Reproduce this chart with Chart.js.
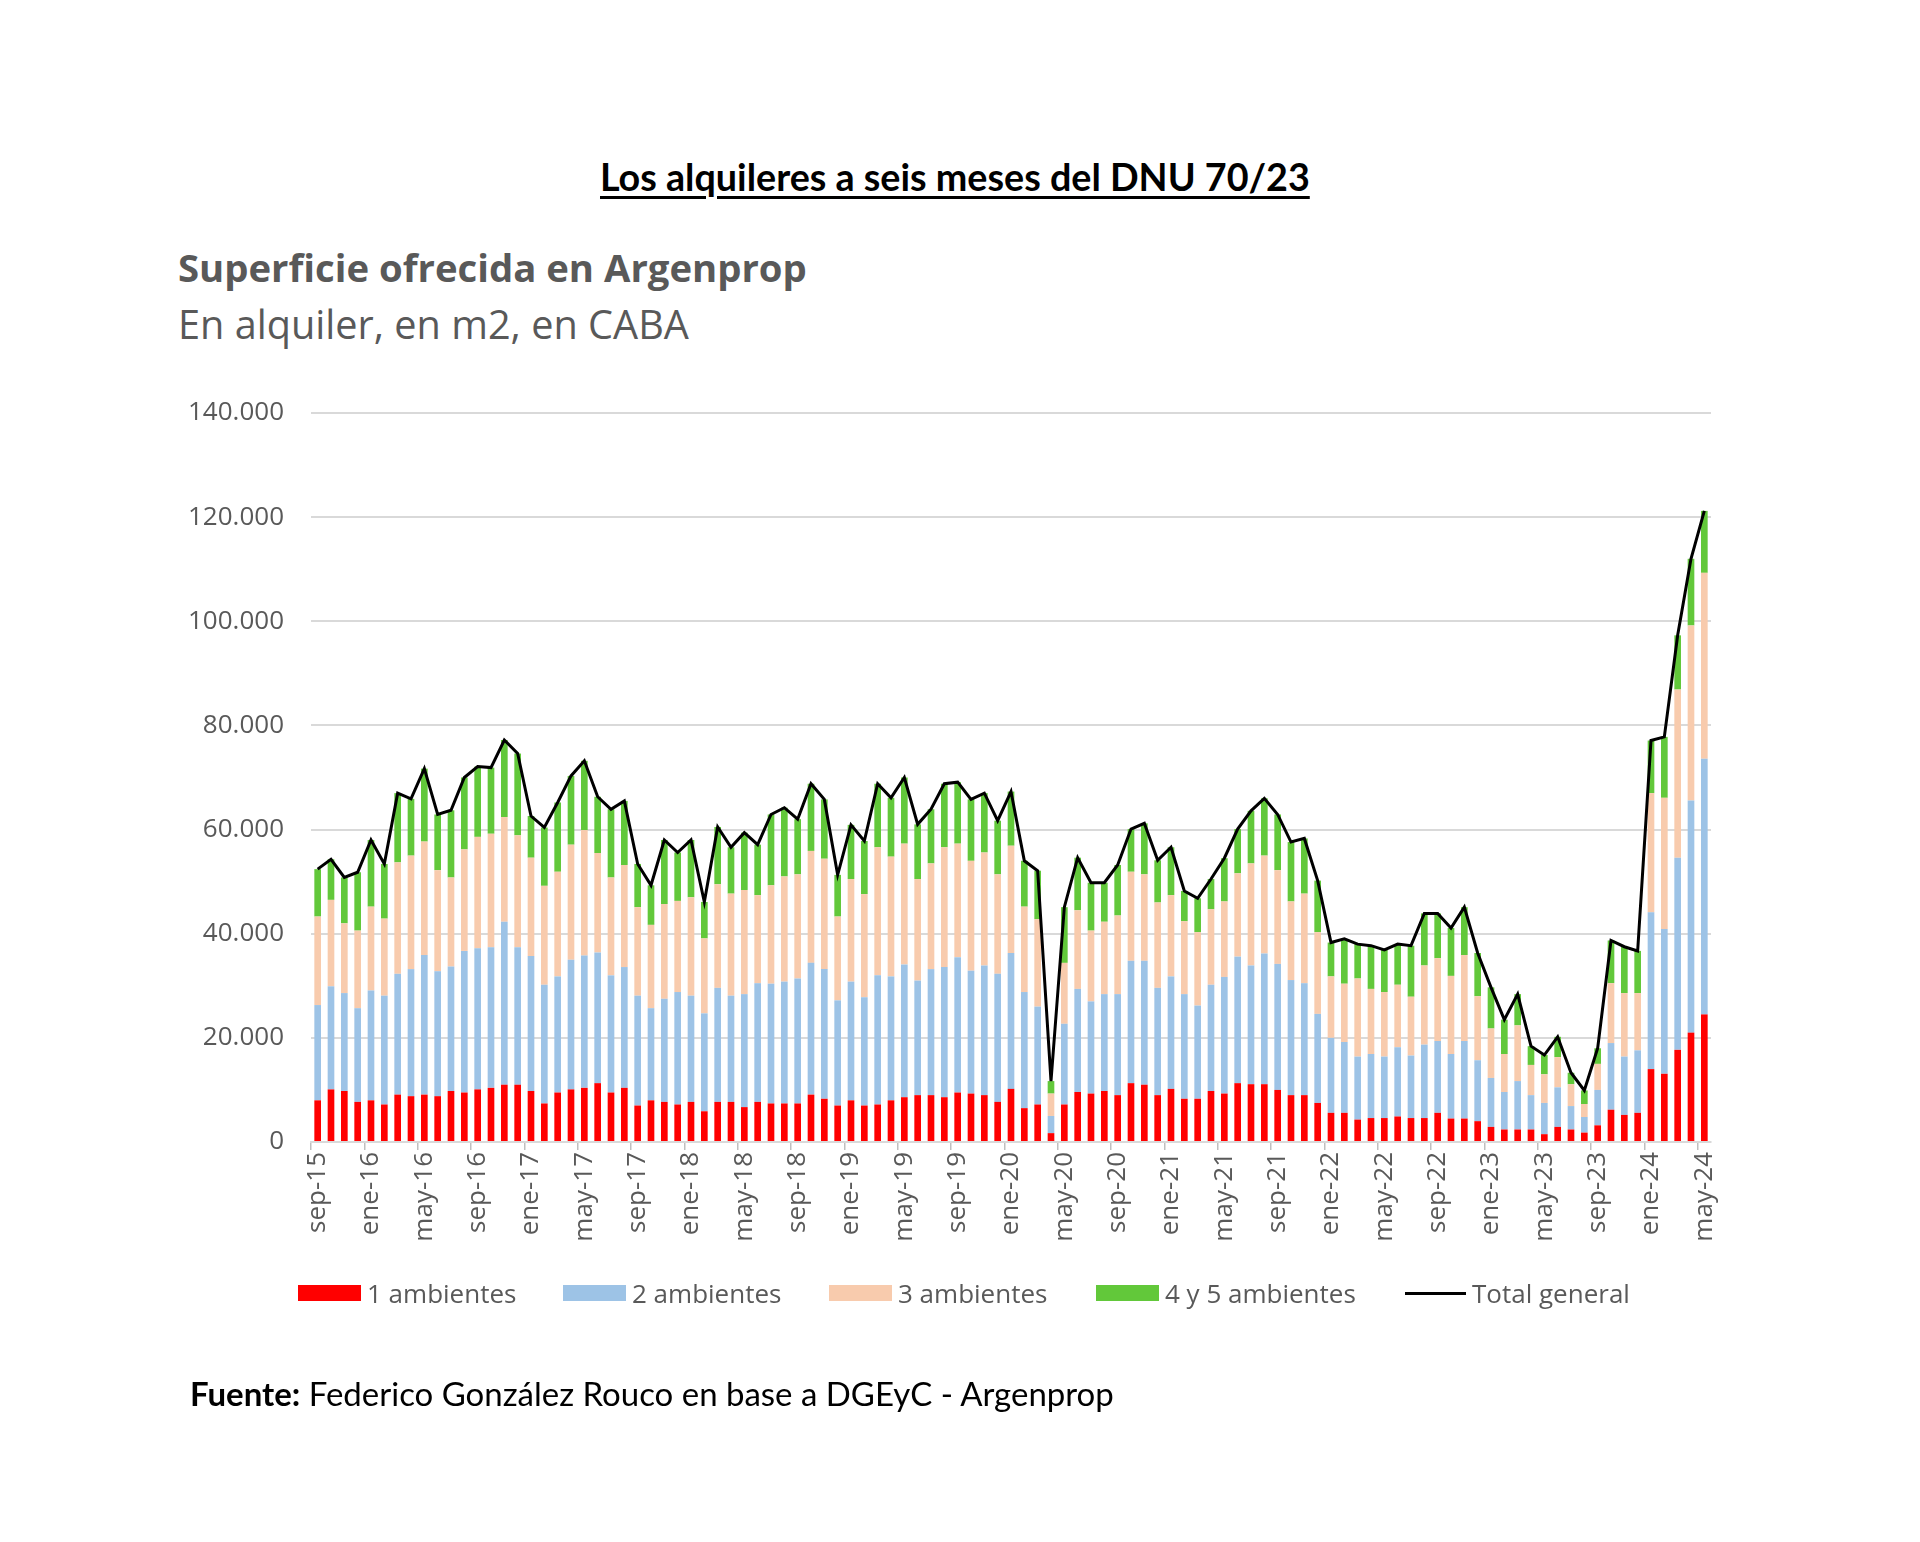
<!DOCTYPE html>
<html lang="es">
<head>
<meta charset="utf-8">
<title>Superficie ofrecida en Argenprop</title>
<script src="https://cdn.jsdelivr.net/npm/chart.js@4.4.1/dist/chart.umd.min.js"></script>
<style>
  html, body { margin: 0; padding: 0; background: #fff; }
  body { width: 1920px; height: 1542px; position: relative; overflow: hidden; }
  #wrap { position: absolute; left: 0; top: 0; width: 1920px; height: 1542px; }
  .txt { position: absolute; white-space: nowrap; line-height: 1; }
  #titulo { font-family: Lato, sans-serif; font-weight: bold; color: #000;
            text-decoration: underline; text-decoration-thickness: 3px; text-underline-offset: 5px; }
  #sub1 { font-family: "Open Sans", sans-serif; font-weight: bold; color: #595959; }
  #sub2 { font-family: "Open Sans", sans-serif; color: #595959; }
  #fuente { font-family: Lato, sans-serif; color: #000; }
  .leg { position: absolute; display: flex; align-items: center; white-space: nowrap;
         font-family: "Open Sans", sans-serif; font-size: 26px; color: #595959; }
  .leg .caja { display: inline-block; width: 63px; height: 16px; margin-right: 6px; }
</style>
</head>
<body>
<div class="txt" id="titulo">Los alquileres a seis meses del DNU 70/23</div>
<div class="txt" id="sub1">Superficie ofrecida en Argenprop</div>
<div class="txt" id="sub2">En alquiler, en m2, en CABA</div>
<div id="wrap"><canvas id="grafico" width="1920" height="1542"></canvas></div>
<div id="leyenda"></div>
<div class="txt" id="fuente"><b>Fuente:</b> Federico González Rouco en base a DGEyC - Argenprop</div>

<script>
// --- CATEGORIES: monthly, sep-15 .. may-24 ---
const MESES = ['ene', 'feb', 'mar', 'abr', 'may', 'jun', 'jul', 'ago', 'sep', 'oct', 'nov', 'dic'];
const meses = [];
for (let k = 0; k < 105; k++) {
    meses.push(MESES[(8 + k) % 12] + '-' + (15 + Math.floor((8 + k) / 12)));
}

// --- SERIES (m2) ---
const unAmb = [
    8000, 10100, 9800, 7700, 8000, 7200, 9100, 8800, 9100, 8800,
    9800, 9500, 10100, 10400, 11000, 11000, 9800, 7400, 9500, 10100,
    10400, 11300, 9500, 10400, 7000, 8000, 7700, 7200, 7700, 5900,
    7700, 7700, 6700, 7700, 7400, 7400, 7400, 9100, 8300, 7000,
    8000, 7000, 7200, 8000, 8600, 9000, 9000, 8600, 9500, 9300,
    9000, 7700, 10200, 6500, 7200, 1700, 7200, 9600, 9300, 9800,
    9000, 11300, 11000, 9000, 10200, 8300, 8300, 9800, 9300, 11300,
    11100, 11100, 10000, 9000, 9000, 7500, 5600, 5600, 4300, 4600,
    4600, 4900, 4600, 4600, 5600, 4500, 4500, 4000, 2900, 2400,
    2400, 2400, 1500, 2900, 2400, 1800, 3200, 6200, 5200, 5600,
    14000, 13100, 17700, 21000, 24500
];
const dosAmb = [
    18300, 19800, 18800, 18000, 21100, 20900, 23200, 24400, 26800, 24000,
    23900, 27200, 27100, 27000, 31300, 26400, 25900, 22800, 22300, 24900,
    25400, 25100, 22500, 23200, 21100, 17700, 19800, 21600, 20400, 18800,
    21900, 20400, 21700, 22800, 23000, 23400, 24000, 25300, 24900, 20200,
    22800, 20800, 24800, 23800, 25500, 22000, 24200, 25000, 26000, 23600,
    24900, 24600, 26100, 22300, 18800, 3300, 15500, 19800, 17700, 18600,
    19400, 23500, 23800, 20600, 21600, 20100, 17900, 20400, 22400, 24300,
    22800, 25100, 24200, 22100, 21500, 17100, 14400, 13600, 12100, 12300,
    11800, 13300, 12000, 14100, 13800, 12400, 14900, 11700, 9400, 7200,
    9300, 6600, 6000, 7600, 4500, 3000, 6800, 12800, 11200, 12000,
    30100, 27800, 36900, 44600, 49100
];
const tresAmb = [
    17000, 16600, 13400, 14900, 16100, 14800, 21400, 21800, 21800, 19400,
    17100, 19500, 21400, 21800, 20100, 21500, 18900, 19000, 20100, 22100,
    24100, 19100, 18800, 19600, 17000, 16000, 18200, 17500, 18900, 14400,
    19900, 19600, 20000, 16900, 18900, 20200, 20000, 21500, 21200, 16100,
    19700, 19800, 24600, 23000, 23200, 19500, 20300, 23000, 21800, 21100,
    21700, 19100, 20600, 16400, 16800, 4300, 11700, 15100, 13600, 13900,
    15100, 17100, 16600, 16400, 15600, 14000, 14100, 14500, 14500, 16000,
    19600, 18800, 18000, 15100, 17200, 15700, 11800, 11200, 15000, 12500,
    12400, 12000, 11300, 15200, 15900, 15000, 16500, 12300, 9500, 7300,
    10700, 5800, 5500, 5800, 4200, 2500, 5000, 11500, 12200, 11000,
    22900, 25200, 32300, 33600, 35700
];
const cuatroCincoAmb = [
    9100, 7800, 8800, 11200, 12800, 10500, 13300, 10900, 14000, 10700,
    12900, 13800, 13500, 12700, 14800, 15700, 8000, 11200, 13300, 13200,
    13300, 10800, 13100, 12300, 8300, 7600, 12300, 9300, 11000, 7000,
    11000, 8900, 11000, 9700, 13600, 13200, 10600, 12900, 11400, 8000,
    10400, 10200, 12200, 11300, 12700, 10500, 10400, 12200, 11800, 11800,
    11400, 10300, 10400, 8800, 9300, 2400, 10700, 10100, 9200, 7500,
    9700, 8200, 9800, 8100, 9200, 5800, 6500, 5800, 8300, 8500,
    10100, 11000, 10700, 11400, 10600, 9900, 6500, 8600, 6600, 8300,
    8100, 7800, 9800, 10000, 8600, 9200, 9200, 8300, 7900, 6600,
    6000, 3600, 3700, 3900, 2200, 2600, 3000, 8200, 8900, 8100,
    10100, 11700, 10400, 12800, 11900
];
const totalGeneral = [
    52400, 54300, 50800, 51800, 58000, 53400, 67000, 65900, 71700, 62900,
    63700, 70000, 72100, 71900, 77200, 74600, 62600, 60400, 65200, 70300,
    73200, 66300, 63900, 65500, 53400, 49300, 58000, 55600, 58000, 46100,
    60500, 56600, 59400, 57100, 62900, 64200, 62000, 68800, 65800, 51300,
    60900, 57800, 68800, 66100, 70000, 61000, 63900, 68800, 69100, 65800,
    67000, 61700, 67300, 54000, 52100, 11700, 45100, 54600, 49800, 49800,
    53200, 60100, 61200, 54100, 56600, 48200, 46800, 50500, 54500, 60100,
    63600, 66000, 62900, 57600, 58300, 50200, 38300, 39000, 38000, 37700,
    36900, 38000, 37700, 43900, 43900, 41100, 45100, 36300, 29700, 23500,
    28400, 18400, 16700, 20200, 13300, 9900, 18000, 38700, 37500, 36700,
    77100, 77800, 97300, 112000, 121200
];

// --- Y TICKS ---
const yMax = 140000;
const yPaso = 20000;

// --- COLORS ---
const colores = {
    rojo: '#ff0000',
    celeste: '#9dc3e6',
    durazno: '#f8cbad',
    verde: '#62c83a',
    negro: '#000000',
    grilla: '#d9d9d9',
    texto: '#595959'
};

function puntoMiles(v) {
    return String(v).replace(/\B(?=(\d{3})+(?!\d))/g, '.');
}

function barra(label, data, color) {
    return {
        type: 'bar', label: label, data: data, backgroundColor: color,
        stack: 'amb', order: 1, barPercentage: 0.5, categoryPercentage: 1.0, borderWidth: 0
    };
}

const ctx = document.getElementById('grafico').getContext('2d');
const chart = new Chart(ctx, {
    data: {
        labels: meses,
        datasets: [
            barra('1 ambientes', unAmb, colores.rojo),
            barra('2 ambientes', dosAmb, colores.celeste),
            barra('3 ambientes', tresAmb, colores.durazno),
            barra('4 y 5 ambientes', cuatroCincoAmb, colores.verde),
            {
                type: 'line', label: 'Total general', data: totalGeneral,
                borderColor: colores.negro, borderWidth: 3, pointRadius: 0,
                tension: 0, stack: 'total', order: 0, fill: false
            }
        ]
    },
    options: {
        responsive: false,
        animation: false,
        layout: { padding: { left: 150, top: 413, right: 209, bottom: 250 } },
        plugins: { legend: { display: false }, tooltip: { enabled: false } },
        scales: {
            x: {
                stacked: true,
                afterFit: s => { s.height = 150; },
                grid: {
                    drawOnChartArea: false, drawTicks: true, tickLength: 8, offset: true,
                    color: c => (c.index % 4 === 0 ? '#bfbfbf' : 'transparent'), lineWidth: 1.5
                },
                border: { color: colores.grilla, width: 2 },
                ticks: {
                    autoSkip: false, maxRotation: 90, minRotation: 90, padding: 2,
                    color: colores.texto, font: { family: 'Open Sans', size: 26 },
                    callback: (v, i) => (i % 4 === 0 ? meses[i] : '')
                }
            },
            y: {
                stacked: true, min: 0, max: yMax,
                afterFit: s => { s.width = 161; },
                grid: { color: colores.grilla, lineWidth: 2, drawTicks: false },
                border: { display: false },
                ticks: {
                    stepSize: yPaso, padding: 27, color: colores.texto,
                    font: { family: 'Open Sans', size: 26 },
                    callback: v => puntoMiles(v)
                }
            }
        }
    }
});

// --- TEXTS: size to the reference widths, then place ---
function ajustar(id, ancho, x, cy, centrado) {
    const el = document.getElementById(id);
    el.style.fontSize = '100px';
    const w = el.getBoundingClientRect().width;
    const size = 100 * ancho / w;
    el.style.fontSize = size + 'px';
    el.style.left = (centrado ? x - ancho / 2 : x) + 'px';
    el.style.top = (cy - 0.55 * size) + 'px';
}
ajustar('titulo', 710, 955, 179, true);
ajustar('sub1', 629, 178, 269, false);
ajustar('sub2', 511, 178, 327, false);
ajustar('fuente', 924, 190, 1395, false);

// --- LEGEND (html, from the chart datasets) ---
const legendaX = [298, 563, 829, 1096, 1405];
const leyenda = document.getElementById('leyenda');
chart.data.datasets.forEach((ds, i) => {
    const item = document.createElement('div');
    item.className = 'leg';
    item.style.left = legendaX[i] + 'px';
    item.style.top = (1293 - 18) + 'px';
    item.style.height = '36px';
    const caja = document.createElement('span');
    caja.className = 'caja';
    if (ds.type === 'line') {
        caja.style.width = '61px';
        caja.style.height = '3px';
        caja.style.background = ds.borderColor;
    } else {
        caja.style.background = ds.backgroundColor;
    }
    const txt = document.createElement('span');
    txt.textContent = ds.label;
    item.appendChild(caja);
    item.appendChild(txt);
    leyenda.appendChild(item);
});
</script>
</body>
</html>
